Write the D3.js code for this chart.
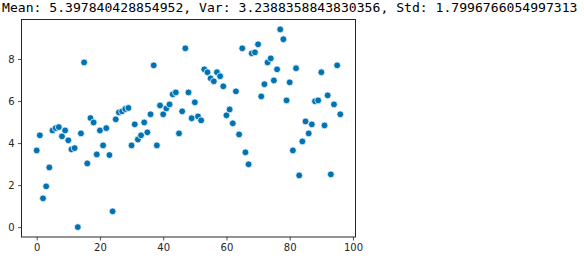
<!DOCTYPE html>
<html>
  <head>
    <meta charset="UTF-8" />
    <script src="https://d3js.org/d3.v7.min.js"></script>
    <style>
      body { margin: 0; background: #fff; }
      .tick text { font-family: "DejaVu Sans", sans-serif; font-size: 10px; fill: #262626; }
      .title { font-family: "DejaVu Sans Mono", monospace; font-size: 13.1px; fill: #000; }
    </style>
  </head>
  <body>
    <div id="chart"></div>
    <script>
      // Titre
      var titleText = "Mean: 5.397840428854952, Var: 3.2388358843830356, Std: 1.7996766054997313";

      // Valeurs (index 0..96)
      var values = [
        3.65, 4.37, 1.37, 1.94, 2.84, 4.60, 4.71, 4.76, 4.32, 4.60,
        4.13, 3.70, 3.76, 0.00, 4.46, 7.84, 3.03, 5.19, 4.98, 3.46,
        4.60, 3.89, 4.71, 3.43, 0.75, 5.13, 5.46, 5.51, 5.62, 5.67,
        3.89, 4.89, 4.17, 4.37, 4.98, 4.51, 5.37, 7.70, 3.89, 5.79,
        5.37, 5.65, 5.84, 6.32, 6.41, 4.46, 5.51, 8.51, 6.41, 5.18,
        5.94, 5.27, 5.08, 7.51, 7.37, 7.08, 6.94, 7.37, 7.18, 6.70,
        5.32, 5.60, 4.94, 6.46, 4.41, 8.51, 3.56, 2.99, 8.27, 8.32,
        8.70, 6.22, 6.80, 7.84, 8.03, 6.98, 7.51, 9.41, 8.94, 6.03,
        6.89, 3.65, 7.56, 2.46, 4.08, 5.03, 4.46, 4.89, 5.99, 6.03,
        7.37, 4.84, 6.27, 2.51, 5.84, 7.70, 5.37
      ];
      var xTicks = [0, 20, 40, 60, 80, 100];
      var yTicks = [0, 2, 4, 6, 8];

      var data = values.map((v, i) => ({ x: i, y: v }));

      var W = 584, H = 261;
      var margin = { top: 19.5, right: 228.5, bottom: 24, left: 21.5 };
      var width = W - margin.left - margin.right,
        height = H - margin.top - margin.bottom;

      var svg = d3.select("#chart").append("svg")
        .attr("width", W).attr("height", H);

      svg.append("text").attr("class", "title")
        .attr("x", 2).attr("y", 12)
        .text(titleText);

      var g = svg.append("g")
        .attr("transform", "translate(" + margin.left + "," + margin.top + ")");

      // marges de 5% comme matplotlib
      var xExt = d3.extent(data, d => d.x), yExt = d3.extent(data, d => d.y);
      var xPad = (xExt[1] - xExt[0]) * 0.05, yPad = (yExt[1] - yExt[0]) * 0.05;
      var x = d3.scaleLinear().domain([xExt[0] - xPad, xExt[1] + xPad]).range([0, width]);
      var y = d3.scaleLinear().domain([yExt[0] - yPad, yExt[1] + yPad]).range([height, 0]);

      var xAxis = g.append("g").attr("transform", "translate(0," + height + ")")
        .call(d3.axisBottom(x).tickValues(xTicks).tickSize(3.5).tickPadding(3.5));
      var yAxis = g.append("g")
        .call(d3.axisLeft(y).tickValues(yTicks).tickSize(3.5).tickPadding(3.5));
      [xAxis, yAxis].forEach(a => {
        a.select(".domain").remove();
        a.selectAll(".tick line").attr("stroke", "#262626").attr("stroke-width", 0.8);
      });

      g.selectAll(".dot").data(data).enter().append("circle")
        .attr("class", "dot")
        .attr("cx", d => x(d.x))
        .attr("cy", d => y(d.y))
        .attr("r", 3.4)
        .attr("fill", "#0173b2")
        .attr("stroke", "#fff")
        .attr("stroke-width", 0.75);

      // cadre
      g.append("rect").attr("width", width).attr("height", height)
        .attr("fill", "none").attr("stroke", "#262626").attr("stroke-width", 1);
    </script>
  </body>
</html>
